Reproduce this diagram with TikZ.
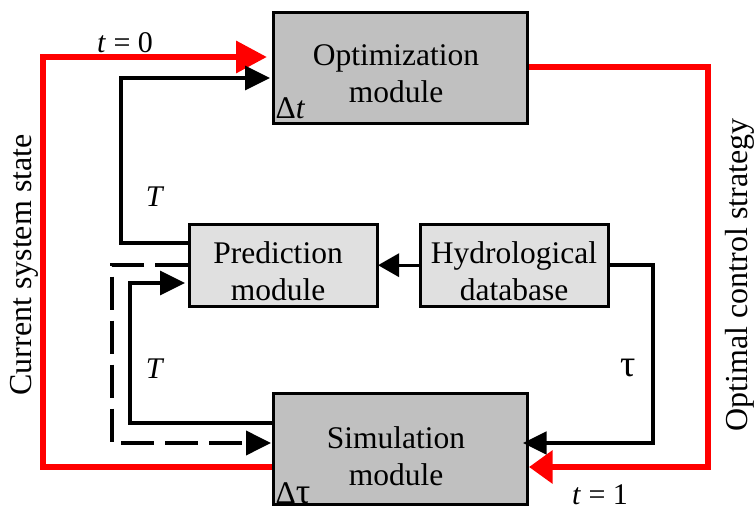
\documentclass[tikz,border=0pt]{standalone}
\usepackage{fontspec}
\setmainfont{Liberation Serif}
\usetikzlibrary{arrows.meta}
\definecolor{dgray}{HTML}{C0C0C0}
\definecolor{lgray}{HTML}{E0E0E0}
\begin{document}
\begin{tikzpicture}[x=1pt,y=-1pt,
  bigbox/.style={draw=black, line width=3pt, fill=dgray, minimum width=254pt, minimum height=111pt, inner sep=0pt},
  smallbox/.style={draw=black, line width=3pt, fill=lgray, minimum width=188pt, minimum height=82pt, inner sep=0pt},
  boxtext/.style={align=center, font=\fontsize{31.5}{37}\selectfont, inner sep=0pt},
  lbl/.style={font=\fontsize{30}{36}\selectfont, inner sep=0pt},
  sidelbl/.style={font=\fontsize{32}{38}\selectfont, inner sep=0pt, rotate=90},
  redline/.style={draw=red, line width=6.5pt},
  blkline/.style={draw=black, line width=3.3pt},
  dashline/.style={draw=black, line width=3.8pt, dash pattern=on 33pt off 11pt},
  redtip/.style={-{Triangle[length=31pt,width=31pt]}},
  redtipb/.style={-{Triangle[length=23.5pt,width=32pt]}},
  blktip/.style={-{Triangle[length=25pt,width=24pt]}},
]
\useasboundingbox (0,0) rectangle (755,510);

% boxes
\node[bigbox] (opt) at (400.5,68) {};
\node[bigbox] (sim) at (400.5,448.8) {};
\node[smallbox] (pred) at (283.5,265.2) {};
\node[smallbox] (hydro) at (514.7,265.2) {};

% box texts
\node[boxtext] (optT) at (396,74) {Optimization\\module};
\node[boxtext] (simT) at (396,456) {Simulation\\module};
\node[boxtext] (predT) at (278,271) {Prediction\\module};
\node[boxtext] (hydroT) at (514,271) {Hydrological\\database};
\node[boxtext, anchor=base west] (dt) at (275.5,119) {Δ\textit{t}};
\node[boxtext, anchor=base west] (dtau) at (275.5,503) {Δ{\fontsize{36}{40}\selectfont τ}};

% corner coordinates
\coordinate (c1) at (43,467);
\coordinate (c2) at (43,57);
\coordinate (c3) at (708,67);
\coordinate (c4) at (708,467);
\coordinate (c5) at (121,243);
\coordinate (c6) at (121,78);
\coordinate (c7) at (130,423);
\coordinate (c8) at (130,283);
\coordinate (c9) at (111.7,265);
\coordinate (c10) at (111.7,443);
\coordinate (c11) at (653,265);
\coordinate (c12) at (653,443);

% red loop
\draw[redline, redtip, shorten >=5pt] (sim.west |- c1) -- (c1) -- (c2) -- (opt.west |- c2);
\draw[redline, redtipb] (opt.east |- c3) -- (c3) -- (c4) -- (sim.east |- c4);

% black connectors
\draw[blkline, blktip, shorten >=2pt] (pred.west |- c5) -- (c5) -- (c6) -- (opt.west |- c6);
\draw[blkline, blktip, shorten >=3pt] (sim.west |- c7) -- (c7) -- (c8) -- (pred.west |- c8);
\draw[dashline, blktip, shorten >=1pt] (pred.west |- c9) -- (c9) -- (c10) -- (sim.west |- c10);
\draw[blkline, -{Triangle[length=21pt,width=23pt]}, shorten >=-1pt] (hydro.west) -- (pred.east);
\draw[blkline, -{Triangle[length=23.5pt,width=22.5pt]}, shorten >=-6pt] (hydro.east |- c11) -- (c11) -- (c12) -- (sim.east |- c12);

% labels
\node[lbl, anchor=base] (t0) at (125,53) {\textit{t} = 0};
\node[lbl, anchor=base] (t1) at (600,504) {\textit{t} = 1};
\node[lbl] (T1) at (155,197) {\textit{T}};
\node[lbl] (T2) at (155,369) {\textit{T}};
\node[lbl, font=\fontsize{38}{42}\selectfont] (tau) at (628,368) {τ};
\node[sidelbl] (css) at (24,265) {Current system state};
\node[sidelbl] (ocs) at (740,275) {Optimal control strategy};
\end{tikzpicture}
\end{document}
